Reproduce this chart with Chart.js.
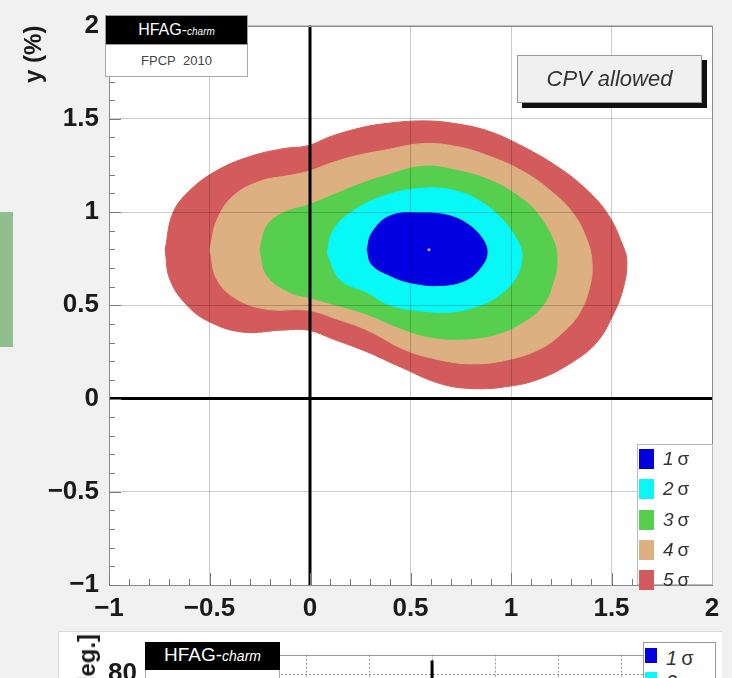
<!DOCTYPE html>
<html>
<head>
<meta charset="utf-8">
<script src="https://cdn.jsdelivr.net/npm/chart.js@4.4.1/dist/chart.umd.min.js"></script>
<style>
html,body{margin:0;padding:0;width:732px;height:678px;overflow:hidden;background:#f1f1f1;font-family:"Liberation Sans",Arial,sans-serif;}
#c1{position:absolute;left:0;top:0;}
#greenbar{position:absolute;left:0;top:212px;width:13px;height:135px;background:#8fbf8f;}
.hfag{position:absolute;background:#000;color:#fff;text-align:center;box-sizing:border-box;border:1px solid #999;}
.hfag i{font-style:italic;}
.fpcp{position:absolute;background:#fff;color:#444;text-align:center;box-sizing:border-box;border:1px solid #aaa;border-top:none;}
#cpv{position:absolute;left:517px;top:55px;width:185px;height:48px;box-sizing:border-box;background:#f0f0f0;border:1px solid #999;box-shadow:5px 5px 0 #111;color:#333;font-style:italic;font-size:22px;line-height:46px;text-align:center;}
#leg1{position:absolute;left:637px;top:444px;width:76px;height:141px;box-sizing:border-box;background:#fff;border:1px solid #bbb;}
.row{position:absolute;left:1px;height:20px;}
.sw{position:absolute;left:0;top:0;width:15px;height:20px;}
.lt{position:absolute;left:24px;top:-2px;font-size:19px;line-height:24px;color:#333;white-space:nowrap;}
#bot{position:absolute;left:58px;top:631px;width:664px;height:47px;overflow:hidden;background:#fff;border-left:1px solid #d8d8d8;border-top:1px solid #d8d8d8;box-sizing:border-box;}
#c2{position:absolute;left:-1px;top:-1px;}
#leg2{position:absolute;left:584px;top:10px;width:73px;height:80px;box-sizing:border-box;background:#fff;border:1px solid #999;}
#dtitle{position:absolute;left:16px;top:2px;font-weight:bold;font-size:24px;line-height:24px;color:#1a1a1a;white-space:nowrap;transform-origin:0 0;transform:rotate(-90deg) translateX(-100%);}
</style>
</head>
<body>
<div id="greenbar"></div>
<canvas id="c1" width="732" height="630"></canvas>
<div class="hfag" style="left:105px;top:15px;width:143px;height:30px;font-size:16px;line-height:28px;">HFAG-<i style="font-size:10px;">charm</i></div>
<div class="fpcp" style="left:105px;top:45px;width:143px;height:32px;font-size:13px;line-height:31px;">FPCP&nbsp; 2010</div>
<div id="cpv">CPV allowed</div>
<div id="leg1"></div>
<div id="bot">
  <canvas id="c2" width="664" height="240"></canvas>
  <div class="hfag" style="left:86px;top:10px;width:135px;height:28px;font-size:19px;line-height:26px;border:none;">HFAG-<i style="font-size:14px;">charm</i></div>
  <div class="fpcp" style="left:86px;top:38px;width:135px;height:32px;font-size:15px;line-height:30px;">FPCP&nbsp; 2010</div>
  <div id="leg2"></div>
  <div id="dtitle">δ [deg.]</div>
</div>
<script>
// ---- data ----
const sigmaLabels = ['1', '2', '3', '4', '5'];
const sigmaColors = ['#0000e0', '#08f7f7', '#55cf4d', '#dcb080', '#d45b5b'];

const sigma1X = [0.284,0.308,0.398,0.562,0.697,0.796,0.861,0.881,0.856,0.781,0.647,0.498,0.398,0.308,0.284];
const sigma1Y = [0.798,0.888,0.979,0.995,0.979,0.926,0.851,0.782,0.713,0.638,0.606,0.622,0.660,0.718,0.798];

const sigma2X = [0.085,0.114,0.199,0.363,0.562,0.731,0.861,0.960,1.030,1.055,1.030,0.960,0.846,0.697,0.532,0.398,0.284,0.149,0.085];
const sigma2Y = [0.782,0.899,0.995,1.085,1.128,1.112,1.048,0.957,0.851,0.766,0.660,0.569,0.500,0.463,0.473,0.500,0.569,0.638,0.782];

const sigma3X = [-0.249,-0.214,-0.134,-0.010,0.100,0.234,0.363,0.562,0.731,0.896,1.030,1.129,1.209,1.229,1.209,1.159,1.060,0.930,0.761,0.597,0.448,0.284,0.134,-0.010,-0.100,-0.214,-0.249];
const sigma3Y = [0.798,0.926,0.995,1.037,1.085,1.144,1.191,1.245,1.223,1.170,1.090,0.995,0.851,0.745,0.622,0.500,0.410,0.346,0.319,0.330,0.378,0.452,0.500,0.543,0.569,0.660,0.798];

const sigma4X = [-0.498,-0.463,-0.383,-0.249,-0.100,-0.010,0.100,0.234,0.363,0.562,0.731,0.896,1.060,1.194,1.308,1.378,1.403,1.393,1.343,1.259,1.144,0.980,0.811,0.647,0.473,0.284,0.134,-0.010,-0.214,-0.363,-0.463,-0.498];
const sigma4Y = [0.798,0.957,1.085,1.165,1.197,1.218,1.261,1.303,1.330,1.367,1.351,1.298,1.218,1.117,0.995,0.851,0.729,0.606,0.463,0.356,0.266,0.207,0.186,0.207,0.261,0.367,0.426,0.473,0.479,0.532,0.638,0.798];

const sigma5X = [-0.721,-0.682,-0.597,-0.463,-0.299,-0.134,-0.010,0.100,0.234,0.363,0.562,0.731,0.896,1.060,1.229,1.358,1.478,1.557,1.577,1.557,1.507,1.428,1.308,1.144,0.980,0.811,0.647,0.448,0.284,0.114,-0.010,-0.134,-0.333,-0.498,-0.612,-0.697,-0.721];
const sigma5Y = [0.798,0.995,1.117,1.223,1.298,1.340,1.356,1.404,1.447,1.473,1.489,1.473,1.431,1.351,1.245,1.138,0.995,0.819,0.729,0.585,0.447,0.303,0.197,0.106,0.064,0.053,0.080,0.170,0.250,0.319,0.367,0.367,0.356,0.410,0.500,0.638,0.798];

const bestFitX = [0.592];
const bestFitY = [0.798];

const zeroLineVX = [0, 0],  zeroLineVY = [-1, 2];
const zeroLineHX = [-1, 2], zeroLineHY = [0, 0];

const xTickStep = 0.5, yTickStep = 0.5;
const xRange = [-1, 2], yRange = [-1, 2];

// lower panel (only its top edge is visible)
const lowerYTickLabel = [80];
const lowerLineX = [2, 2], lowerLineY = [0, 87];

// ---- helpers ----
const zip = (xs, ys) => xs.map((x, i) => ({x, y: ys[i]}));
const fmt = v => (v < 0 ? '\u2212' + Math.abs(v) : String(v));
const tickFont = {family: 'Liberation Sans', size: 26, weight: 'bold'};

const sigmaX = [sigma1X, sigma2X, sigma3X, sigma4X, sigma5X];
const sigmaY = [sigma1Y, sigma2Y, sigma3Y, sigma4Y, sigma5Y];

// legends (HTML)
function buildLegend(el, n, spacing, sq, fs, top0) {
  for (let i = 0; i < n; i++) {
    const r = document.createElement('div');
    r.className = 'row';
    r.style.top = (top0 + i * spacing) + 'px';
    r.innerHTML = '<div class="sw" style="background:' + sigmaColors[i] + ';width:' + sq[0] + 'px;height:' + sq[1] + 'px"></div>' +
      '<div class="lt" style="font-size:' + fs + 'px;left:' + (sq[0] + 9) + 'px"><i>' + sigmaLabels[i] + '</i>\u2009\u03c3</div>';
    el.appendChild(r);
  }
}
buildLegend(document.getElementById('leg1'), 5, 30.3, [15, 20], 19, 4);
buildLegend(document.getElementById('leg2'), 2, 24, [12, 15], 20, 5);

const frameBg = {
  id: 'frameBg',
  beforeDraw(chart) {
    const {ctx, chartArea: a} = chart;
    ctx.save(); ctx.fillStyle = '#fff';
    ctx.fillRect(a.left, a.top, a.right - a.left, a.bottom - a.top);
    ctx.restore();
  },
  afterDraw(chart, args, opts) {
    const {ctx, chartArea: a} = chart;
    ctx.save(); ctx.strokeStyle = opts.color || '#8a8a8a'; ctx.lineWidth = 1;
    ctx.strokeRect(Math.round(a.left) + 0.5, Math.round(a.top) + 0.5, Math.round(a.right - a.left), Math.round(a.bottom - a.top));
    ctx.restore();
  }
};

const innerTicks = {
  id: 'innerTicks',
  afterDraw(chart) {
    const {ctx, chartArea: a, scales: {x, y}} = chart;
    ctx.save(); ctx.strokeStyle = '#7a7a7a'; ctx.lineWidth = 1;
    for (let i = 0; i <= 30; i++) {
      const v = xRange[0] + i * 0.1;
      const len = i % 5 === 0 ? 12 : 6;
      const px = Math.round(x.getPixelForValue(v)) + 0.5;
      ctx.beginPath(); ctx.moveTo(px, a.bottom); ctx.lineTo(px, a.bottom - len); ctx.stroke();
      const v2 = yRange[0] + i * 0.1;
      const py = Math.round(y.getPixelForValue(v2)) + 0.5;
      ctx.beginPath(); ctx.moveTo(a.left, py); ctx.lineTo(a.left + len, py); ctx.stroke();
    }
    ctx.restore();
  }
};

const contourSets = sigmaX.map((xs, i) => ({
  label: sigmaLabels[i] + 'σ',
  data: zip(xs, sigmaY[i]),
  borderColor: sigmaColors[i],
  backgroundColor: sigmaColors[i],
  borderWidth: 1,
  pointRadius: 0,
  tension: 0.4,
  fill: 'shape'
}));

new Chart(document.getElementById('c1'), {
  type: 'line',
  data: {
    datasets: [
      {data: zip(zeroLineHX, zeroLineHY), borderColor: '#000', borderWidth: 3, pointRadius: 0, fill: false, tension: 0},
      {data: zip(zeroLineVX, zeroLineVY), borderColor: '#000', borderWidth: 3, pointRadius: 0, fill: false, tension: 0},
      {data: zip(bestFitX, bestFitY), showLine: false, pointRadius: 1.6, pointBorderWidth: 0, pointBackgroundColor: '#d9a0e6'},
      ...contourSets
    ]
  },
  options: {
    responsive: false, animation: false, events: [],
    layout: {padding: {left: 0, top: 21, right: 20, bottom: 0}},
    plugins: {legend: {display: false}, tooltip: {enabled: false}, frameBg: {color: '#8a8a8a'}},
    scales: {
      x: {
        type: 'linear', min: xRange[0], max: xRange[1],
        afterFit(s) { s.height = 45; },
        ticks: {stepSize: xTickStep, padding: 8, font: tickFont, color: '#1a1a1a', maxRotation: 0, autoSkip: false, callback: fmt},
        grid: {color: 'rgba(0,0,0,0.2)', z: 1, drawTicks: false, tickLength: 0},
        border: {display: false}
      },
      y: {
        type: 'linear', min: yRange[0], max: yRange[1],
        afterFit(s) { s.width = 109; },
        ticks: {stepSize: yTickStep, padding: 10, font: tickFont, color: '#1a1a1a', callback: fmt},
        grid: {color: 'rgba(0,0,0,0.2)', z: 1, drawTicks: false, tickLength: 0},
        border: {display: false},
        title: {display: true, text: 'y (%)', align: 'end', font: {family: 'Liberation Sans', size: 24, weight: 'bold'}, color: '#1a1a1a', padding: {top: 20, bottom: 0}}
      }
    }
  },
  plugins: [frameBg, innerTicks]
});

new Chart(document.getElementById('c2'), {
  type: 'line',
  data: {
    datasets: [
      {data: zip(lowerLineX, lowerLineY), borderColor: '#000', borderWidth: 3, pointRadius: 0, fill: false, tension: 0}
    ]
  },
  options: {
    responsive: false, animation: false, events: [],
    layout: {padding: {left: 0, top: 11, right: 7, bottom: 0}},
    plugins: {legend: {display: false}, tooltip: {enabled: false}, frameBg: {color: '#999'}},
    scales: {
      x: {
        type: 'linear', min: -2.556, max: 6.49,
        afterFit(s) { s.height = 40; },
        ticks: {stepSize: 1, display: false},
        grid: {color: '#9a9a9a', drawTicks: false, tickLength: 0},
        border: {display: false, dash: [2, 2]}
      },
      y: {
        type: 'linear', min: 0, max: 90,
        afterFit(s) { s.width = 87; },
        afterBuildTicks(s) { s.ticks = lowerYTickLabel.map(v => ({value: v})); },
        ticks: {padding: 8, font: tickFont, color: '#1a1a1a'},
        grid: {color: '#9a9a9a', drawTicks: false, tickLength: 0},
        border: {display: false, dash: [2, 2]}
      }
    }
  },
  plugins: [frameBg]
});
</script>
</body>
</html>
